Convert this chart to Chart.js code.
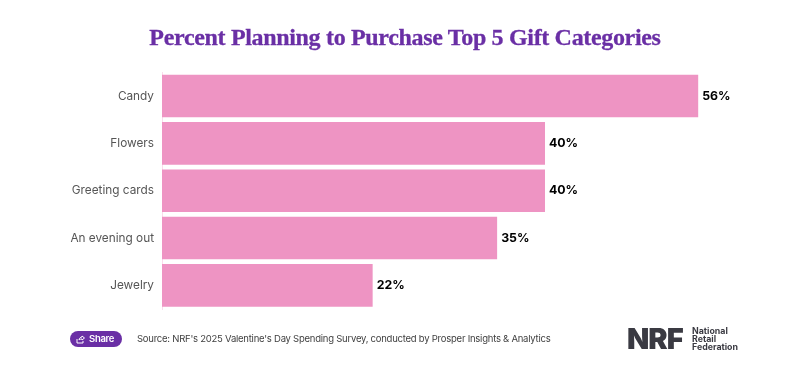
<!DOCTYPE html>
<html>
<head>
<meta charset="utf-8">
<script src="https://cdn.jsdelivr.net/npm/chart.js@4"></script>
<style>
html, body { margin: 0; padding: 0; background: #fff; }
#wrap { position: relative; width: 800px; height: 366px; overflow: hidden; }
#myChart { position: absolute; left: 0; top: 0; }
.title { position: absolute; left: 0; top: 22px; width: 810px; text-align: center; font: bold 24px/30px "Liberation Serif", serif; color: #6a2fa5;
  letter-spacing: -0.33px; -webkit-text-stroke: 0.3px #6a2fa5; white-space: nowrap; }
.share { position: absolute; left: 70px; top: 331px; width: 52px; height: 16px; border-radius: 8px; background: #6a2fa5; color: #fff;
  font: 600 9.5px Inter, sans-serif; line-height: 15px; letter-spacing: -0.3px; }
.share span { position: absolute; left: 19px; }
.share svg { position: absolute; left: 6px; top: 4px; }
.source { position: absolute; left: 137px; top: 332px; font: 9.5px Inter, sans-serif; line-height: 14px; color: #3f3f3f; letter-spacing: -0.24px; white-space: nowrap; }
.nrf { position: absolute; left: 627px; top: 324px; font: 900 29px/30px Inter, sans-serif; color: #3a3a42; letter-spacing: -1px; }
.nrf-name { position: absolute; left: 692px; top: 327px; font: 700 8.8px/8px Inter, sans-serif; color: #3a3a42; }
</style>
</head>
<body>
<div id="wrap">
<canvas id="myChart" width="800" height="366"></canvas>
<div class="title" id="chartTitle"></div>
<div class="share">
  <svg width="9" height="9" viewBox="0 0 9 9"><path d="M1 4v4h6V6M3 5c0-2 2-3 3-3V1l2.500 2L6 5V4C5 4 4 4 3 5z" fill="none" stroke="#fff" stroke-width="1"/></svg>
  <span>Share</span>
</div>
<div class="source">Source: NRF's 2025 Valentine's Day Spending Survey, conducted by Prosper Insights &amp; Analytics</div>
<div class="nrf">NRF</div>
<div class="nrf-name">National<br>Retail<br>Federation</div>
</div>
<script>
// chart data
const categories = ['Candy', 'Flowers', 'Greeting cards', 'An evening out', 'Jewelry'];
const percentValues = [56, 40, 40, 35, 22];
const chartTitle = 'Percent Planning to Purchase Top 5 Gift Categories';

document.getElementById('chartTitle').textContent = chartTitle;

// draws the 56% etc. next to each bar
const barValueLabels = {
    id: 'barValueLabels',
    afterDatasetsDraw(chart) {
        const ctx = chart.ctx;
        const meta = chart.getDatasetMeta(0);
        ctx.save();
        ctx.font = '700 12.3px Inter, sans-serif';
        ctx.fillStyle = '#000';
        ctx.textBaseline = 'middle';
        meta.data.forEach(function (bar, i) {
            ctx.fillText(percentValues[i] + '%', bar.x + 4, bar.y);
        });
        ctx.restore();
    }
};

var ctx = document.getElementById('myChart').getContext('2d');
var myChart = new Chart(ctx, {
    type: 'bar',
    plugins: [barValueLabels],
    data: {
        labels: categories,
        datasets: [{
            data: percentValues,
            backgroundColor: '#ee94c3',
            categoryPercentage: 0.9,
            barPercentage: 1
        }]
    },
    options: {
        indexAxis: 'y',
        responsive: false,
        animation: false,
        layout: { padding: { top: 72.400, bottom: 57, right: 63.500, left: 0 } },
        plugins: {
            legend: { display: false },
            tooltip: { enabled: false }
        },
        scales: {
            x: {
                min: 0,
                max: 60,
                display: false
            },
            y: {
                afterFit(scale) { scale.width = 162; },
                grid: { display: false, drawTicks: false },
                border: { color: '#fbdcec', width: 1 },
                ticks: {
                    color: '#555',
                    padding: 8,
                    font: { family: 'Inter, sans-serif', size: 11.800 }
                }
            }
        }
    }
});
</script>
</body>
</html>
